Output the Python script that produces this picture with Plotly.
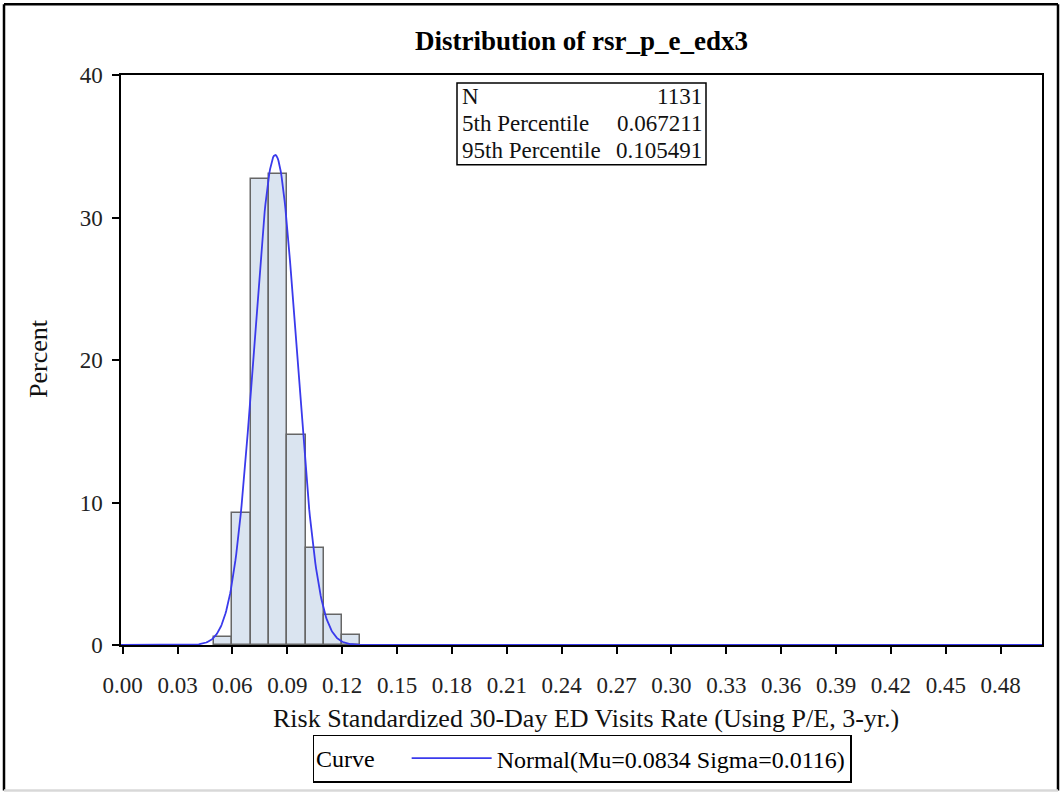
import numpy as np
import plotly.graph_objects as go

# ---- data ----
bin_centers = [0.055, 0.065, 0.075, 0.085, 0.095, 0.105, 0.115, 0.125]
bin_percent = [0.53, 9.28, 32.71, 33.07, 14.77, 6.81, 2.12, 0.71]
bin_width = 0.01

mu = 0.0834
sigma = 0.0116
n_obs = 1131
stat_labels = ["N", "5th Percentile", "95th Percentile"]
stat_values = [str(n_obs), "0.067211", "0.105491"]

x_tickvals = [0.00, 0.03, 0.06, 0.09, 0.12, 0.15, 0.18, 0.21, 0.24, 0.27,
              0.30, 0.33, 0.36, 0.39, 0.42, 0.45, 0.48]
x_ticktext = ["%.2f" % v for v in x_tickvals]
y_tickvals = [0, 10, 20, 30, 40]

x_range = [-0.0009, 0.5026]

# fitted normal curve (as stated in legend), scaled to percent per bin
curve_x = np.linspace(x_range[0], x_range[1], 1200)
curve_y = 100 * bin_width / (sigma * np.sqrt(2 * np.pi)) * np.exp(-0.5 * ((curve_x - mu) / sigma) ** 2)

FONT = "Liberation Serif"

fig = go.Figure()
fig.add_trace(go.Bar(
    x=bin_centers, y=bin_percent, width=bin_width,
    marker=dict(color="#dae4f0", line=dict(color="#666666", width=1.5)),
    showlegend=False, hoverinfo="x+y",
))
fig.add_trace(go.Scatter(
    x=curve_x, y=curve_y, mode="lines",
    line=dict(color="#3a3aec", width=1.8),
    name="Normal(Mu=0.0834 Sigma=0.0116)",
))

W, H = 1062, 795
L, R, T, B = 121, 20, 75, 148
pw, ph = W - L - R, H - T - B

def px(x):
    return (x - L) / pw

def py(y):
    return (H - B - y) / ph

fig.update_layout(
    width=W, height=H,
    margin=dict(l=L, r=R, t=T, b=B, pad=0),
    paper_bgcolor="white", plot_bgcolor="white",
    font=dict(family=FONT, size=23, color="black"),
    bargap=0,
    xaxis=dict(range=x_range, tickvals=x_tickvals, ticktext=x_ticktext,
               showgrid=False, zeroline=False, showline=True, linecolor="black",
               linewidth=1.5, mirror=True, ticks="outside", ticklen=7,
               tickwidth=1.5, tickcolor="black", ticklabelstandoff=12,
               tickfont=dict(family=FONT, size=23, color="#222")),
    yaxis=dict(range=[0, 40], tickvals=y_tickvals,
               showgrid=False, zeroline=False, showline=True, linecolor="black",
               linewidth=1.5, mirror=True, ticks="outside", ticklen=7,
               tickwidth=1.5, tickcolor="black", ticklabelstandoff=5,
               tickfont=dict(family=FONT, size=23, color="#222")),
    legend=dict(orientation="h", x=px(582), xanchor="center", y=py(761), yanchor="middle",
                title=dict(text="Curve    ", side="left", font=dict(family=FONT, size=24)),
                bordercolor="black", borderwidth=1.5, bgcolor="white",
                font=dict(family=FONT, size=24), itemwidth=80),
    showlegend=True,
)

# title
fig.add_annotation(text="<b>Distribution of rsr_p_e_edx3</b>", xref="paper", yref="paper",
                   x=px(581), y=py(41), xanchor="center", yanchor="middle", showarrow=False,
                   font=dict(family=FONT, size=27, color="black"))
# axis titles
fig.add_annotation(text="Risk Standardized 30-Day ED Visits Rate (Using P/E, 3-yr.)",
                   xref="paper", yref="paper", x=px(586), y=py(721),
                   xanchor="center", yanchor="middle", showarrow=False,
                   font=dict(family=FONT, size=26, color="#111"))
fig.add_annotation(text="Percent", xref="paper", yref="paper", x=px(38), y=py(360),
                   xanchor="center", yanchor="middle", textangle=-90, showarrow=False,
                   font=dict(family=FONT, size=26, color="#111"))

# inset statistics box
fig.add_shape(type="rect", xref="paper", yref="paper",
              x0=px(457), x1=px(706), y0=py(165), y1=py(83),
              line=dict(color="black", width=1.5), fillcolor="white")
row_y = [97, 124, 151]
for lab, val, yy in zip(stat_labels, stat_values, row_y):
    fig.add_annotation(text=lab, xref="paper", yref="paper",
                       x=px(460), y=py(yy), xanchor="left", yanchor="middle",
                       showarrow=False, font=dict(family=FONT, size=23, color="#111"))
    fig.add_annotation(text=val, xref="paper", yref="paper",
                       x=px(704), y=py(yy), xanchor="right", yanchor="middle",
                       showarrow=False, font=dict(family=FONT, size=23, color="#111"))

# outer frame
for (x0, y0, x1, y1, c) in [(4, 4, 1058, 4, "black"), (4, 4, 4, 793, "black"),
                            (1058, 4, 1058, 793, "black"), (4, 793, 1058, 793, "#d8d8d8")]:
    fig.add_shape(type="line", xref="paper", yref="paper",
                  x0=px(x0), x1=px(x1), y0=py(y0), y1=py(y1),
                  line=dict(color=c, width=2.5))

fig.write_html("out.html")
